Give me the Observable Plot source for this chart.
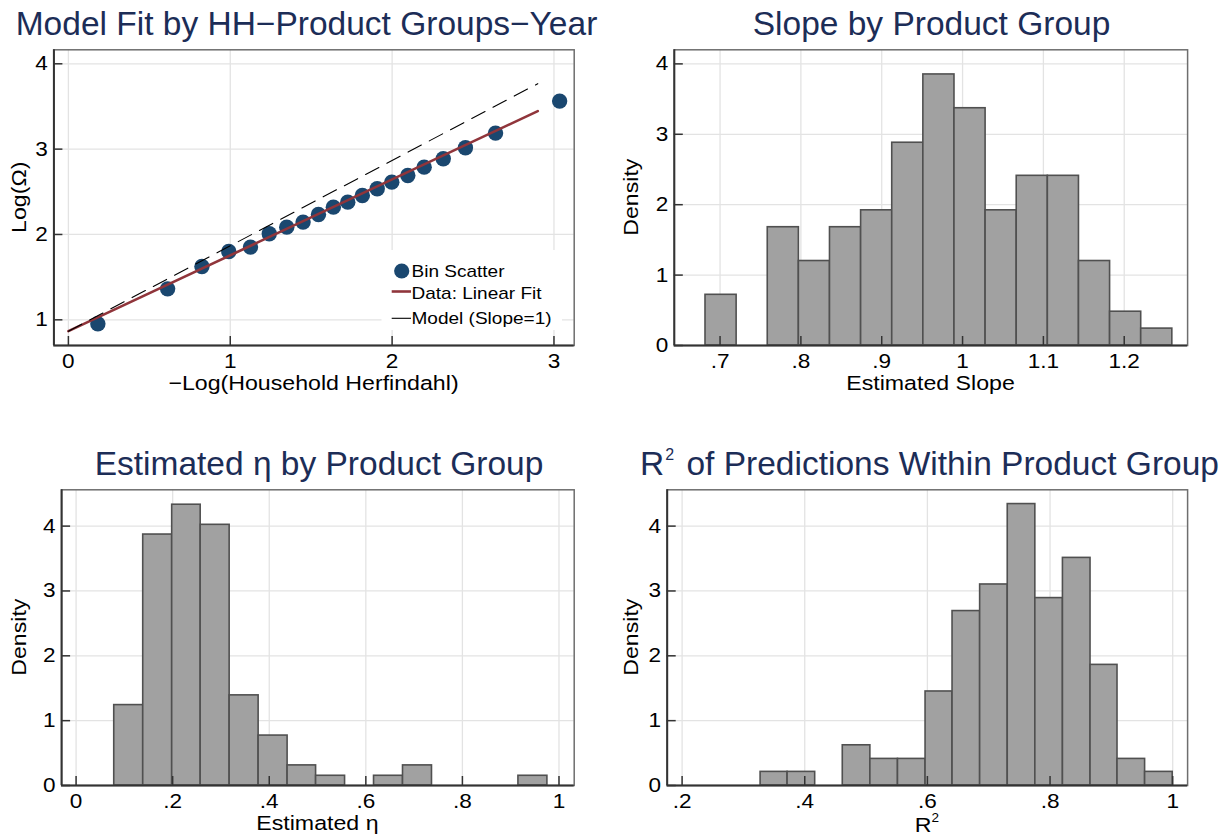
<!DOCTYPE html>
<html>
<head>
<meta charset="utf-8">
<script src="https://cdn.jsdelivr.net/npm/d3@7"></script>
<script src="https://cdn.jsdelivr.net/npm/@observablehq/plot@0.6"></script>
<style>
  html, body { margin: 0; padding: 0; background: #fff; }
  #root { position: relative; width: 1225px; height: 837px; overflow: hidden; background: #fff; }
  .panel { position: absolute; }
</style>
</head>
<body>
<div id="root"></div>
<script>
// ---------------- DATA ----------------
// Panel 1: bin scatter of Log(Omega) vs -Log(Household Herfindahl)
const binX = [0.182, 0.613, 0.825, 0.991, 1.125, 1.241, 1.349, 1.450, 1.545, 1.637, 1.726, 1.816, 1.908, 1.998, 2.097, 2.198, 2.316, 2.453, 2.639, 3.035];
const binY = [0.953, 1.363, 1.625, 1.800, 1.852, 2.008, 2.086, 2.145, 2.234, 2.320, 2.379, 2.457, 2.535, 2.613, 2.691, 2.789, 2.887, 3.016, 3.188, 3.563];
const fitX = [0, 2.9];
const fitY = [0.867, 3.445];
const modelX = [0, 2.9];
const modelY = [0.867, 3.767];
const p1XTicks = [0, 1, 2, 3];
const p1YTicks = [1, 2, 3, 4];

// Panel 2: histogram of estimated slope
const slopeEdges = [0.682, 0.7205, 0.759, 0.7975, 0.836, 0.8745, 0.913, 0.9515, 0.990, 1.0285, 1.067, 1.1055, 1.144, 1.1825, 1.221, 1.2595];
const slopeDensity = [0.72, 0, 1.68, 1.20, 1.68, 1.92, 2.88, 3.85, 3.37, 1.92, 2.41, 2.41, 1.20, 0.48, 0.24];
const p2XTicks = [0.7, 0.8, 0.9, 1, 1.1, 1.2];

// Panel 3: histogram of estimated eta
const etaEdges = [0.079, 0.139, 0.199, 0.258, 0.318, 0.378, 0.438, 0.497, 0.557, 0.617, 0.677, 0.737, 0.796, 0.856, 0.916, 0.976];
const etaDensity = [1.24, 3.87, 4.33, 4.02, 1.39, 0.77, 0.31, 0.15, 0, 0.15, 0.31, 0, 0, 0, 0.15];
const p3XTicks = [0, 0.2, 0.4, 0.6, 0.8, 1];

// Panel 4: histogram of R^2
const r2Edges = [0.328, 0.372, 0.417, 0.462, 0.507, 0.552, 0.597, 0.641, 0.686, 0.731, 0.776, 0.821, 0.866, 0.910, 0.955, 1.000];
const r2Density = [0.21, 0.21, 0, 0.62, 0.41, 0.41, 1.45, 2.69, 3.10, 4.34, 2.89, 3.51, 1.86, 0.41, 0.21];
const p4XTicks = [0.2, 0.4, 0.6, 0.8, 1];

const densityTicks = [0, 1, 2, 3, 4];

const titles = ["Model Fit by HH\u2212Product Groups\u2212Year", "Slope by Product Group", "Estimated \u03B7 by Product Group", " of Predictions Within Product Group"];
const xTitles = ["\u2212Log(Household Herfindahl)", "Estimated Slope", "Estimated \u03B7", "R"];
const yTitles = ["Log(\u03A9)", "Density", "Density", "Density"];
const legendLabels = ["Bin Scatter", "Data: Linear Fit", "Model (Slope=1)"];

// ---------------- STYLE ----------------
const FONT = '"Liberation Sans", Arial, Helvetica, sans-serif';
const NAVY = "#1c2d57";
const DOT = "#1a476f";
const RED = "#90353b";
const GRID = "#e3e3e3";
const AXIS = "#333333";
const FRAME = "#6e6e6e";
const BARFILL = "#a1a1a1";
const BARSTROKE = "#505050";

const fmt = d => String(d).replace(/^0\./, ".");

const root = document.getElementById("root");

// widen tick-label glyphs horizontally (keeps their anchor point)
function stretchText(svg, sx) {
  svg.querySelectorAll("text").forEach(t => {
    const xa = t.getAttribute("x");
    let pre = "";
    if (xa !== null && /^-?[\d.]+$/.test(xa.trim())) {
      pre = ` translate(${+xa},0)`;
      t.removeAttribute("x");
    }
    const tr = t.getAttribute("transform") || "";
    t.setAttribute("transform", `${tr}${pre} scale(${sx},1)`);
  });
}

function commonMarks(xdom, ydom, xt, yt, gridYTicks) {
  return {
    grid: [
      Plot.gridX(xt, {stroke: GRID, strokeOpacity: 1, strokeWidth: 1.3}),
      Plot.gridY(gridYTicks, {stroke: GRID, strokeOpacity: 1, strokeWidth: 1.3})
    ],
    axes: [
      Plot.frame({stroke: FRAME, strokeWidth: 1.5}),
      Plot.ruleX([xdom[0]], {stroke: AXIS, strokeWidth: 2}),
      Plot.ruleY([ydom[0]], {stroke: AXIS, strokeWidth: 2}),
      Plot.ruleX(xt, {x: d => d, y1: ydom[0], y2: ydom[0], insetTop: -9, stroke: AXIS, strokeWidth: 1.5}),
      Plot.ruleY(yt, {y: d => d, x1: xdom[0], x2: xdom[0], insetRight: -9, stroke: AXIS, strokeWidth: 1.5}),
      Plot.axisX(xt, {tickSize: 0, tickPadding: 8.5, tickFormat: fmt, label: null}),
      Plot.axisY(yt, {tickSize: 0, tickPadding: 6, tickFormat: fmt, label: null})
    ]
  };
}

function makePanel({left, top, width, height, ml, mr, mt, mb, xdom, ydom, xt, yt, gridYTicks, data}) {
  const cm = commonMarks(xdom, ydom, xt, yt, gridYTicks);
  const svg = Plot.plot({
    width, height,
    marginLeft: ml, marginRight: mr, marginTop: mt, marginBottom: mb,
    x: {domain: xdom},
    y: {domain: ydom},
    style: {fontFamily: FONT, fontSize: "20px", color: "#000", background: "transparent", overflow: "visible"},
    marks: [...cm.grid, ...data, ...cm.axes]
  });
  stretchText(svg, 1.13);
  const div = document.createElement("div");
  div.className = "panel";
  div.style.left = left + "px";
  div.style.top = top + "px";
  div.appendChild(svg);
  root.appendChild(div);
}

function hist(edges, dens) {
  return dens.map((d, i) => ({x1: edges[i], x2: edges[i + 1], d})).filter(b => b.d > 0);
}
function histMark(edges, dens) {
  return Plot.rect(hist(edges, dens), {x1: "x1", x2: "x2", y1: 0, y2: "d", fill: BARFILL, stroke: BARSTROKE, strokeWidth: 1.6});
}

// Panel 1
const binTable = binX.map((x, i) => ({x, y: binY[i]}));
const fitTable = fitX.map((x, i) => ({x, y: fitY[i]}));
const modelTable = modelX.map((x, i) => ({x, y: modelY[i]}));
makePanel({
  left: 0, top: 40, width: 610, height: 340,
  ml: 53.4, mr: 36.3, mt: 9.3, mb: 35,
  xdom: [-0.0896, 3.125], ydom: [0.699, 4.164],
  xt: p1XTicks, yt: p1YTicks, gridYTicks: p1YTicks,
  data: [
    Plot.dot(binTable, {x: "x", y: "y", r: 7.7, fill: DOT, stroke: "none"}),
    Plot.line(fitTable, {x: "x", y: "y", stroke: RED, strokeWidth: 2.6}),
    Plot.line(modelTable, {x: "x", y: "y", stroke: "#000", strokeWidth: 1.1, strokeDasharray: "15,9"})
  ]
});

// Panel 2
makePanel({
  left: 610, top: 40, width: 615, height: 340,
  ml: 63.8, mr: 37.9, mt: 9.3, mb: 35,
  xdom: [0.6434, 1.2784], ydom: [0, 4.2],
  xt: p2XTicks, yt: densityTicks, gridYTicks: [1, 2, 3, 4],
  data: [histMark(slopeEdges, slopeDensity)]
});

// Panel 3
makePanel({
  left: 0, top: 480, width: 610, height: 340,
  ml: 61.1, mr: 36.3, mt: 9.3, mb: 35,
  xdom: [-0.030, 1.0315], ydom: [0, 4.56],
  xt: p3XTicks, yt: densityTicks, gridYTicks: [1, 2, 3, 4],
  data: [histMark(etaEdges, etaDensity)]
});

// Panel 4
makePanel({
  left: 610, top: 480, width: 615, height: 340,
  ml: 56.7, mr: 37.9, mt: 9.3, mb: 35,
  xdom: [0.1757, 1.0243], ydom: [0, 4.56],
  xt: p4XTicks, yt: densityTicks, gridYTicks: [1, 2, 3, 4],
  data: [histMark(r2Edges, r2Density)]
});

// ---------------- OVERLAY TEXT (titles, axis titles, legend) ----------------
const ov = d3.select(root).append("svg")
  .attr("width", 1225).attr("height", 837)
  .style("position", "absolute").style("left", "0px").style("top", "0px")
  .attr("font-family", FONT);

function txt(x, y, s, {size = 20.5, sx = 1.13, anchor = "middle", rot = false, fill = "#000"} = {}) {
  return ov.append("text")
    .attr("transform", `translate(${x},${y})${rot ? " rotate(-90)" : ""} scale(${sx},1)`)
    .attr("text-anchor", anchor)
    .attr("font-size", size)
    .attr("fill", fill)
    .text(s);
}

// Titles
const TS = 33.5;
txt(306.5, 35, titles[0], {size: TS, sx: 1, fill: NAVY});
txt(931.5, 35, titles[1], {size: TS, sx: 1, fill: NAVY});
txt(319, 475, titles[2], {size: TS, sx: 1, fill: NAVY});
{
  const t = ov.append("text").attr("transform", "translate(929.5,475)").attr("text-anchor", "middle")
    .attr("font-size", TS).attr("fill", NAVY);
  t.append("tspan").text("R");
  t.append("tspan").attr("font-size", 16).attr("dy", -15).attr("dx", 1).text("2");
  t.append("tspan").attr("dy", 15).attr("dx", 3).text(titles[3]);
}

// X axis titles
txt(313.5, 390, xTitles[0]);
txt(930.5, 390, xTitles[1]);
txt(317.4, 830, xTitles[2]);
{
  const t = ov.append("text").attr("transform", "translate(927,832) scale(1.13,1)").attr("text-anchor", "middle")
    .attr("font-size", 20.5).attr("fill", "#000");
  t.append("tspan").text(xTitles[3]);
  t.append("tspan").attr("font-size", 12).attr("dy", -10).text("2");
}

// Y axis titles
txt(26, 197.2, yTitles[0], {rot: true});
txt(638.4, 197.2, yTitles[1], {rot: true});
txt(26.2, 637.2, yTitles[2], {rot: true});
txt(638.4, 637.2, yTitles[3], {rot: true});

// Legend (panel 1)
ov.append("rect").attr("x", 381.5).attr("y", 250).attr("width", 180.5).attr("height", 80).attr("fill", "#fff");
ov.append("circle").attr("cx", 401.7).attr("cy", 271).attr("r", 7.6).attr("fill", DOT);
ov.append("line").attr("x1", 391.7).attr("x2", 411).attr("y1", 291.5).attr("y2", 291.5).attr("stroke", RED).attr("stroke-width", 2.6);
ov.append("line").attr("x1", 391.7).attr("x2", 411).attr("y1", 318.3).attr("y2", 318.3).attr("stroke", "#000").attr("stroke-width", 1.1);
txt(411.5, 277.3, legendLabels[0], {size: 17, sx: 1.12, anchor: "start"});
txt(411.5, 299.3, legendLabels[1], {size: 17, sx: 1.12, anchor: "start"});
txt(411.5, 324, legendLabels[2], {size: 17, sx: 1.12, anchor: "start"});
</script>
</body>
</html>
